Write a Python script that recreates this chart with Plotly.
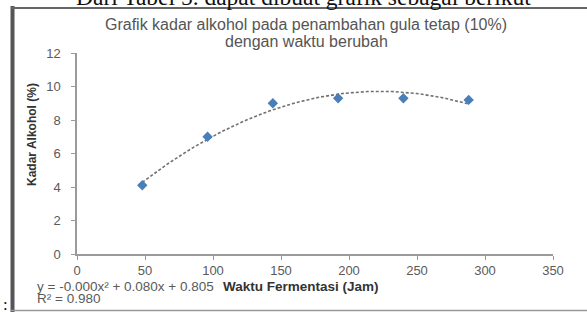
import numpy as np
import plotly.graph_objects as go

waktu = [48, 96, 144, 192, 240, 288]
kadar = [4.1, 7.0, 9.0, 9.3, 9.3, 9.2]
x_ticks = [0, 50, 100, 150, 200, 250, 300, 350]
y_ticks = [0, 2, 4, 6, 8, 10, 12]

W, H = 587, 312
L, R, T, B = 77, 34, 53, 58
PW, PH = W - L - R, H - T - B

def px(x):
    return (x - L) / PW

def py(y):
    return (H - B - y) / PH

coef = np.polyfit(waktu, kadar, 2)
xs = np.linspace(min(waktu), max(waktu), 120)
ys = np.polyval(coef, xs)

fig = go.Figure()
fig.add_trace(go.Scatter(x=xs, y=ys, mode="lines",
                         line=dict(color="#707070", width=1.6, dash="3px,2px"),
                         hoverinfo="skip", showlegend=False))
fig.add_trace(go.Scatter(x=waktu, y=kadar, mode="markers",
                         marker=dict(symbol="diamond", size=8, color="#4a7ebb"),
                         showlegend=False))

font_main = "Liberation Sans, Arial, sans-serif"
tick_col = "#5a5a5a"

fig.update_layout(
    width=W, height=H,
    margin=dict(l=L, r=R, t=T, b=B, autoexpand=False),
    paper_bgcolor="white", plot_bgcolor="white",
    font=dict(family=font_main, color=tick_col, size=13),
    xaxis=dict(range=[0, 350], tickvals=x_ticks, showgrid=False, zeroline=False,
               showline=True, linecolor="#9a9a9a", linewidth=1.5,
               ticks="outside", ticklen=4, tickcolor="#9a9a9a",
               ticklabelstandoff=0,
               tickfont=dict(size=13, color=tick_col)),
    yaxis=dict(range=[0, 12], tickvals=y_ticks, showgrid=False, zeroline=False,
               showline=True, linecolor="#9a9a9a", linewidth=1.5,
               ticks="outside", ticklen=4, tickcolor="#9a9a9a",
               ticklabelstandoff=8,
               tickfont=dict(size=13, color=tick_col)),
)

ann = []
# document caption (cut at top)
ann.append(dict(text="Dari Tabel 5. dapat dibuat grafik sebagai berikut",
                x=px(303), y=py(12), xref="paper", yref="paper",
                xanchor="center", yanchor="bottom", showarrow=False,
                font=dict(family="Liberation Serif, Times New Roman, serif", size=23.5, color="#111111")))
# chart title (two lines)
ann.append(dict(text="Grafik kadar alkohol pada penambahan gula tetap (10%)",
                x=px(306), y=py(25), xref="paper", yref="paper",
                xanchor="center", yanchor="middle", showarrow=False,
                font=dict(family=font_main, size=16, color="#555555")))
ann.append(dict(text="dengan waktu berubah",
                x=px(306), y=py(42), xref="paper", yref="paper",
                xanchor="center", yanchor="middle", showarrow=False,
                font=dict(family=font_main, size=16, color="#555555")))
# y axis title
ann.append(dict(text="<b>Kadar Alkohol (%)</b>", textangle=-90,
                x=px(32), y=py(135), xref="paper", yref="paper",
                xanchor="center", yanchor="middle", showarrow=False,
                font=dict(family=font_main, size=12, color="#333333")))
# equation
ann.append(dict(text="y = -0.000x² + 0.080x + 0.805",
                x=px(35), y=py(286), xref="paper", yref="paper",
                xanchor="left", yanchor="middle", showarrow=False,
                font=dict(family=font_main, size=13.5, color=tick_col)))
ann.append(dict(text="R² = 0.980",
                x=px(35), y=py(298), xref="paper", yref="paper",
                xanchor="left", yanchor="middle", showarrow=False,
                font=dict(family=font_main, size=13.5, color=tick_col)))
# x axis title
ann.append(dict(text="<b>Waktu Fermentasi (Jam)</b>",
                x=px(221), y=py(286), xref="paper", yref="paper",
                xanchor="left", yanchor="middle", showarrow=False,
                font=dict(family=font_main, size=13.5, color="#333333")))
# colon
ann.append(dict(text=":",
                x=px(5), y=py(304), xref="paper", yref="paper",
                xanchor="center", yanchor="middle", showarrow=False,
                font=dict(family="Liberation Serif, serif", size=17, color="#111111")))
fig.update_layout(annotations=ann)

shapes = [
    dict(type="line", xref="paper", yref="paper", x0=px(12.5), x1=px(12.5), y0=py(6), y1=py(312),
         line=dict(color="#555555", width=4)),
    dict(type="line", xref="paper", yref="paper", x0=px(11), x1=px(587), y0=py(8), y1=py(8),
         line=dict(color="#666666", width=2)),
    dict(type="line", xref="paper", yref="paper", x0=px(11), x1=px(587), y0=py(310.5), y1=py(310.5),
         line=dict(color="#999999", width=1.5)),
]
fig.update_layout(shapes=shapes)

fig.write_html("out.html", config={"displayModeBar": False},
               post_script="document.body.style.margin='0';document.body.style.padding='0';document.body.style.overflow='hidden';")
